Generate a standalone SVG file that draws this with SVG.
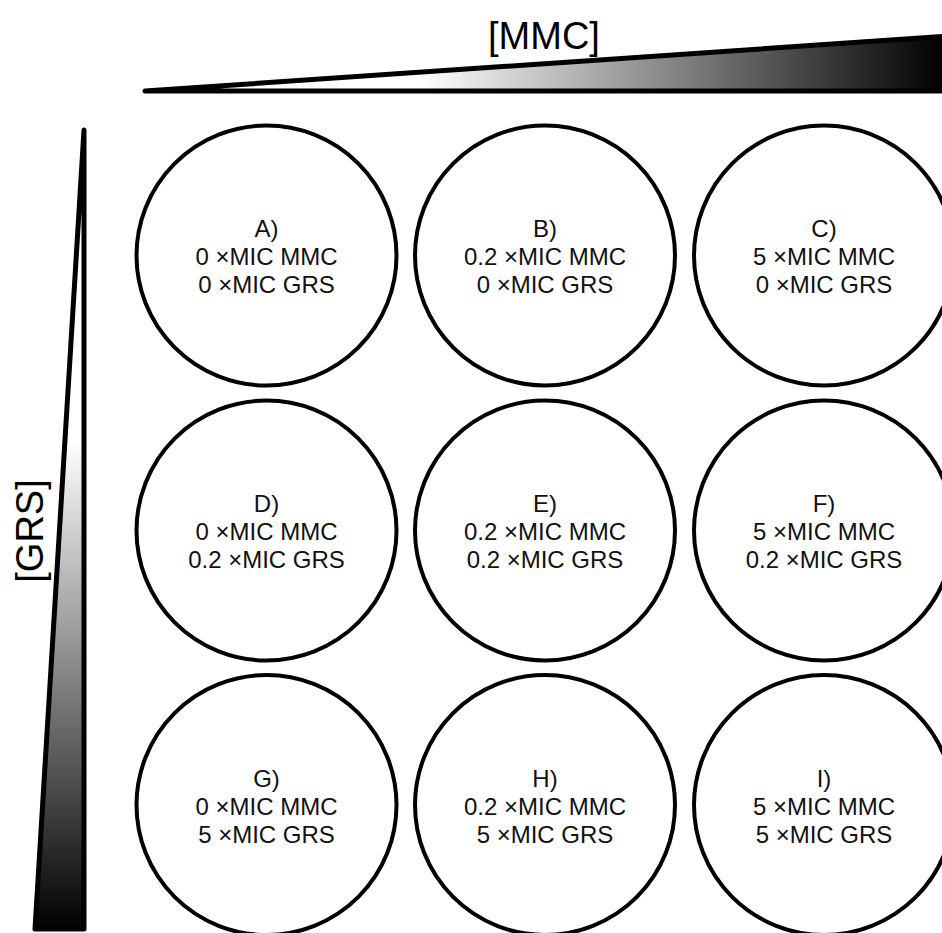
<svg xmlns="http://www.w3.org/2000/svg" width="942" height="933" viewBox="0 0 942 933">
<defs>
<linearGradient id="gradH" gradientUnits="userSpaceOnUse" x1="420" y1="0" x2="945" y2="0">
<stop offset="0" stop-color="#ffffff"/>
<stop offset="1" stop-color="#000000"/>
</linearGradient>
<linearGradient id="gradV" gradientUnits="userSpaceOnUse" x1="0" y1="440" x2="0" y2="931">
<stop offset="0" stop-color="#ffffff"/>
<stop offset="1" stop-color="#000000"/>
</linearGradient>
</defs>
<style>
.wedge{stroke:#000;stroke-width:5;stroke-linejoin:round}
.well{fill:#fff;stroke:#000;stroke-width:4}
.lbl{font-family:"Liberation Sans",Arial,sans-serif;font-size:24px;fill:#111;text-anchor:middle}
.axis{font-family:"Liberation Sans",Arial,sans-serif;font-size:38px;fill:#000;text-anchor:middle}
</style>
<rect width="942" height="933" fill="#fff"/>
<g id="mmc-axis">
<polygon class="wedge" points="145,91 950,36 950,91" fill="url(#gradH)"/>
<text class="axis" x="544" y="49">[MMC]</text>
</g>
<g id="grs-axis">
<polygon class="wedge" points="84,130 84,929 35,929" fill="url(#gradV)"/>
<text class="axis" transform="translate(43,531) rotate(-90)">[GRS]</text>
</g>
<g id="wellA"><circle class="well" cx="266.5" cy="255.5" r="130"/>
<text class="lbl" x="266.5" y="237">A)</text><text class="lbl" x="266.5" y="265">0 ×MIC MMC</text><text class="lbl" x="266.5" y="293">0 ×MIC GRS</text></g>
<g id="wellB"><circle class="well" cx="545" cy="255.5" r="130"/>
<text class="lbl" x="545" y="237">B)</text><text class="lbl" x="545" y="265">0.2 ×MIC MMC</text><text class="lbl" x="545" y="293">0 ×MIC GRS</text></g>
<g id="wellC"><circle class="well" cx="824" cy="255.5" r="130"/>
<text class="lbl" x="824" y="237">C)</text><text class="lbl" x="824" y="265">5 ×MIC MMC</text><text class="lbl" x="824" y="293">0 ×MIC GRS</text></g>
<g id="wellD"><circle class="well" cx="266.5" cy="530.5" r="130"/>
<text class="lbl" x="266.5" y="512">D)</text><text class="lbl" x="266.5" y="540">0 ×MIC MMC</text><text class="lbl" x="266.5" y="568">0.2 ×MIC GRS</text></g>
<g id="wellE"><circle class="well" cx="545" cy="530.5" r="130"/>
<text class="lbl" x="545" y="512">E)</text><text class="lbl" x="545" y="540">0.2 ×MIC MMC</text><text class="lbl" x="545" y="568">0.2 ×MIC GRS</text></g>
<g id="wellF"><circle class="well" cx="824" cy="530.5" r="130"/>
<text class="lbl" x="824" y="512">F)</text><text class="lbl" x="824" y="540">5 ×MIC MMC</text><text class="lbl" x="824" y="568">0.2 ×MIC GRS</text></g>
<g id="wellG"><circle class="well" cx="266.5" cy="805" r="130"/>
<text class="lbl" x="266.5" y="786.5">G)</text><text class="lbl" x="266.5" y="814.5">0 ×MIC MMC</text><text class="lbl" x="266.5" y="842.5">5 ×MIC GRS</text></g>
<g id="wellH"><circle class="well" cx="545" cy="805" r="130"/>
<text class="lbl" x="545" y="786.5">H)</text><text class="lbl" x="545" y="814.5">0.2 ×MIC MMC</text><text class="lbl" x="545" y="842.5">5 ×MIC GRS</text></g>
<g id="wellI"><circle class="well" cx="824" cy="805" r="130"/>
<text class="lbl" x="824" y="786.5">I)</text><text class="lbl" x="824" y="814.5">5 ×MIC MMC</text><text class="lbl" x="824" y="842.5">5 ×MIC GRS</text></g>
<g id="connectors"/>
</svg>
